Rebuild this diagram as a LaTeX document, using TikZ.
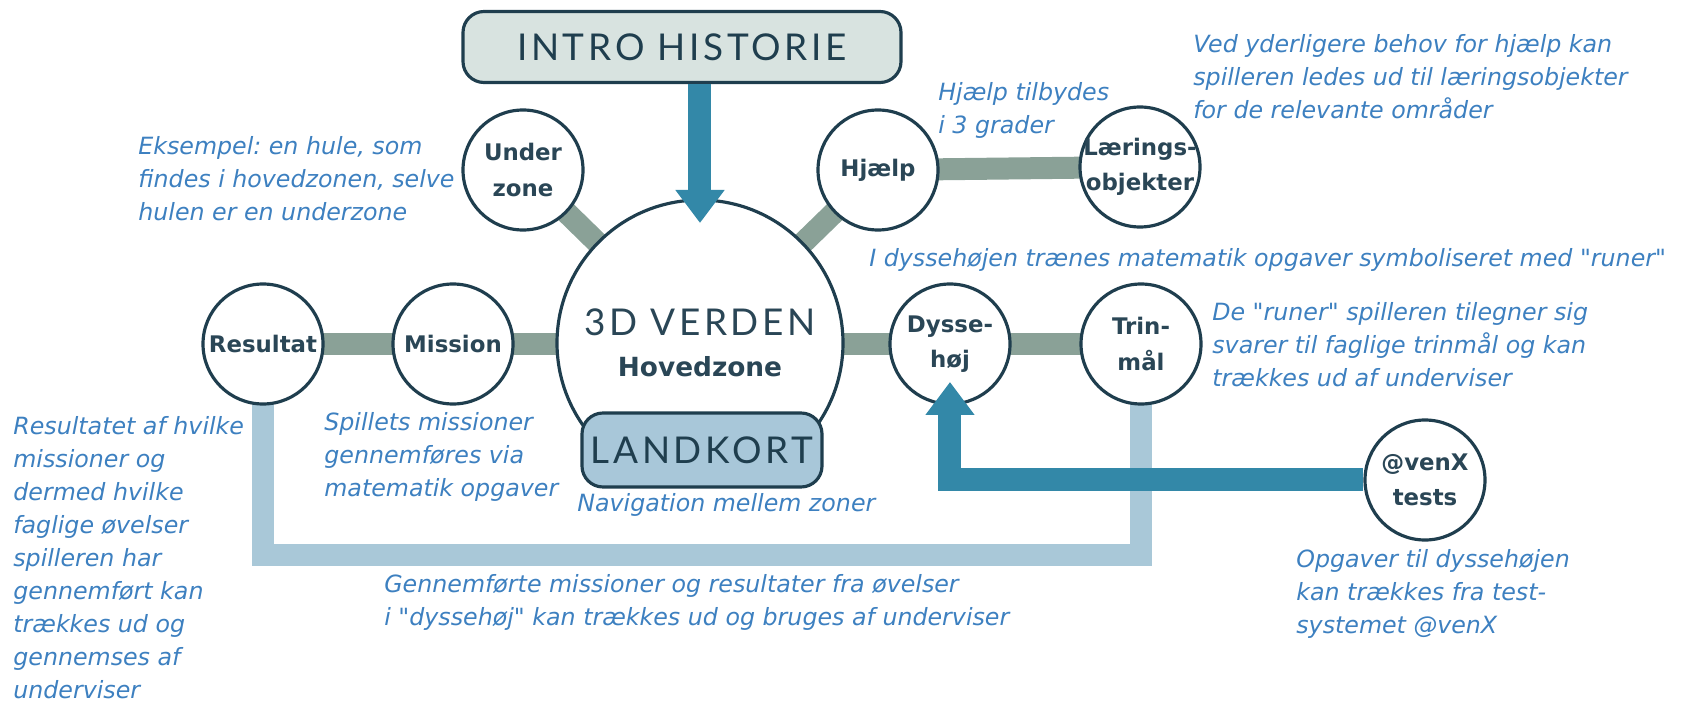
\documentclass[tikz,border=0pt]{standalone}
\usepackage{fontspec}
\setmainfont{DejaVu Sans}
\newfontfamily\notefont{DejaVu Sans}
\newfontfamily\titlefont[LetterSpace=10]{Lato}
\usetikzlibrary{arrows.meta,backgrounds}
\definecolor{zoneline}{HTML}{1F3E4E}
\definecolor{zonetext}{HTML}{2A4656}
\definecolor{bandgray}{HTML}{8AA197}
\definecolor{bandblue}{HTML}{A9C8D8}
\definecolor{arrowblue}{HTML}{3388A8}
\definecolor{notetext}{HTML}{3D80C0}
\definecolor{introfill}{HTML}{D8E3E0}
\definecolor{mapfill}{HTML}{A8C7D9}
\frenchspacing
\begin{document}
\begin{tikzpicture}[scale=0.2]
	\tikzstyle{every node}+=[inner sep=0pt]
	\tikzstyle{zone}=[circle, draw=zoneline, line width=1.8pt, fill=white, minimum size=2.4cm, inner sep=-6pt, align=center, text=zonetext, font=\bfseries\fontsize{13}{20}\selectfont]
	\tikzstyle{titlebox}=[rectangle, rounded corners=0.42cm, draw=zoneline, line width=1.8pt, text=zoneline, font=\titlefont\fontsize{21}{21}\selectfont]
	\tikzstyle{band}=[line width=0.44cm, bandgray]
	\tikzstyle{lightband}=[line width=0.44cm, bandblue]
	\tikzstyle{bigarrow}=[line width=0.46cm, arrowblue, -{Triangle[width=0.94cm, length=0.66cm]}]
	\tikzstyle{note}=[anchor=north west, align=left, text=notetext, font=\notefont\itshape\fontsize{13.5}{18.8}\selectfont]
	\useasboundingbox (0,0) rectangle (168.2,-70.4);
	\node [titlebox, fill=introfill, minimum width=8.76cm, minimum height=1.42cm] (intro) at (68.2,-4.7) {INTRO HISTORIE};
	\node [zone, minimum size=5.72cm] (verden) at (70.0,-34.3) {{\mdseries\titlefont\fontsize{21}{21}\selectfont 3D VERDEN}\\[3pt]{\fontsize{15}{15}\selectfont Hovedzone}};
	\node [titlebox, fill=mapfill, minimum width=4.8cm, minimum height=1.48cm] (landkort) at (70.2,-45.0) {LANDKORT};
	\node [zone] (underzone) at (52.3,-17.0) {Under\\zone};
	\node [zone] (hjaelp) at (87.8,-17.0) {Hjælp};
	\node [zone] (laering) at (114.0,-16.7) {Lærings-\\objekter};
	\node [zone] (resultat) at (26.3,-34.4) {Resultat};
	\node [zone] (mission) at (45.3,-34.4) {Mission};
	\node [zone] (dysse) at (95.0,-34.4) {Dysse-\\høj};
	\node [zone] (trin) at (114.1,-34.4) {Trin-\\mål};
	\node [zone] (venx) at (142.5,-48.0) {@venX\\tests};
	\coordinate (lowline) at (70.0,-55.5);
	\coordinate (introtip) at (70.0,-22.3);
	\coordinate (dyssetip) at (95.0,-38.2);
	\begin{pgfonlayer}{background}
		\draw [band] (underzone.center) -- (verden.center);
		\draw [band] (hjaelp.center) -- (verden.center);
		\draw [band] (hjaelp.center) -- (laering.center);
		\draw [band] (resultat.center) -- (mission.center) -- (dysse.center) -- (trin.center);
		\draw [lightband] (resultat.center) |- (lowline) -| (trin.center);
	\end{pgfonlayer}
	\draw [bigarrow] (intro.south -| verden) -- (introtip);
	\draw [bigarrow] (venx.west) -| (dyssetip);
	\node [note] (undernote) at (13.8,-13.6) {Eksempel: en hule, som\\findes i hovedzonen, selve\\hulen er en underzone};
	\node [note] (hjaelpnote) at (93.8,-8.2) {Hjælp tilbydes\\i 3 grader};
	\node [note] (laeringnote) at (119.3,-3.4) {Ved yderligere behov for hjælp kan\\spilleren ledes ud til læringsobjekter\\for de relevante områder};
	\node [note] (dyssenote) at (86.9,-24.8) {I dyssehøjen trænes matematik opgaver symboliseret med "runer"};
	\node [note] (trinnote) at (121.2,-30.2) {De "runer" spilleren tilegner sig\\svarer til faglige trinmål og kan\\trækkes ud af underviser};
	\node [note] (resultatnote) at (1.3,-41.6) {Resultatet af hvilke\\missioner og\\dermed hvilke\\faglige øvelser\\spilleren har\\gennemført kan\\trækkes ud og\\gennemses af\\underviser};
	\node [note] (missionnote) at (32.4,-41.2) {Spillets missioner\\gennemføres via\\matematik opgaver};
	\node [note] (kortnote) at (57.7,-49.3) {Navigation mellem zoner};
	\node [note] (lownote) at (38.4,-57.4) {Gennemførte missioner og resultater fra øvelser\\i "dyssehøj" kan trækkes ud og bruges af underviser};
	\node [note] (venxnote) at (129.6,-54.9) {Opgaver til dyssehøjen\\kan trækkes fra test-\\systemet @venX};
\end{tikzpicture}
\end{document}
